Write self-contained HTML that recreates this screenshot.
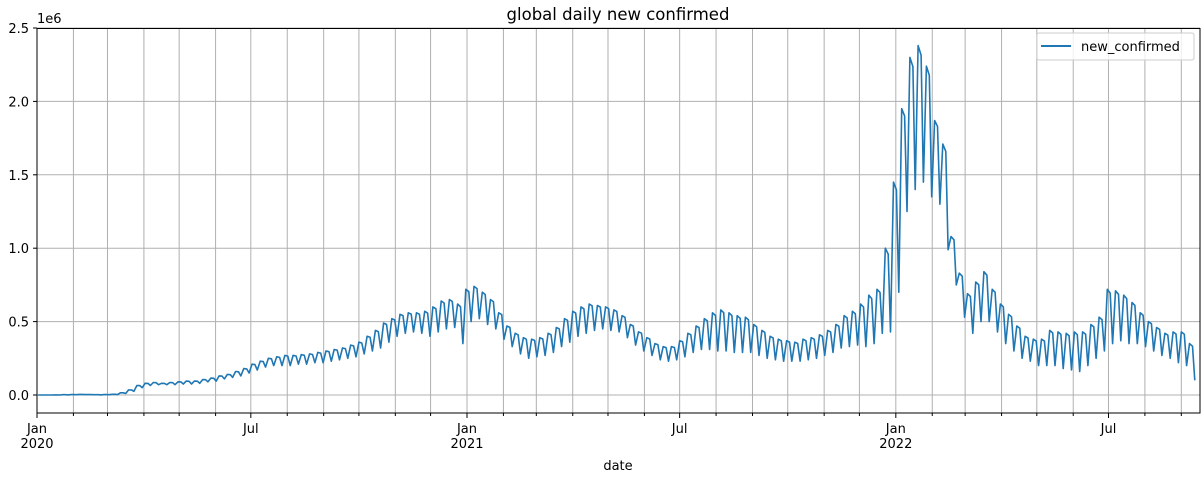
<!DOCTYPE html>
<html><head><meta charset="utf-8">
<style>
body{margin:0;background:#fff;}
svg text{font-family:"DejaVu Sans","Liberation Sans",sans-serif;fill:#000;}
</style></head>
<body>
<svg id="chart" width="1202" height="474" viewBox="0 0 1202 474" xmlns="http://www.w3.org/2000/svg">
<rect width="1202" height="474" fill="#fff"/>
<g id="grid"></g>
<g id="series"></g>
<g id="axes"></g>
<text x="618" y="20" font-size="16.5" text-anchor="middle">global daily new confirmed</text>
<text x="37" y="23" font-size="13">1e6</text>
<text x="618" y="470" font-size="13" text-anchor="middle">date</text>
<g>
<rect x="1037" y="33" width="157" height="27" fill="#fff" fill-opacity="0.8" stroke="#ccc" rx="2"/>
<line x1="1041" y1="46" x2="1071" y2="46" stroke="#1f77b4" stroke-width="2"/>
<text x="1081" y="51" font-size="13">new_confirmed</text>
</g>
</svg>
<script>
// weekly highs and lows (thousands), weeks starting 2020-01-01
const weeklyHigh=[0,0,1,2,3,4,3,2,3,5,15,35,65,80,85,80,85,90,95,95,105,115,130,140,160,180,210,230,250,260,270,270,275,280,290,300,310,320,340,360,400,440,490,520,550,560,560,570,600,640,650,620,720,
740,700,650,560,470,420,390,380,390,420,460,520,570,600,620,610,600,580,540,480,430,390,350,330,330,370,420,470,520,560,580,560,540,530,480,440,400,380,370,360,380,390,410,440,480,540,570,620,680,720,1000,1450,
1950,2300,2380,2240,1870,1710,1080,830,690,770,840,720,620,550,470,400,380,380,440,430,420,430,430,480,530,720,710,680,630,560,500,460,420,430,430,350];
const weeklyLow=[0,0,0,1,2,3,2,1,2,3,10,25,50,65,70,70,70,75,75,80,90,95,110,120,130,150,170,190,200,200,200,210,210,220,220,230,240,250,260,280,300,320,360,400,420,430,420,400,430,450,460,350,500,
520,480,450,380,330,280,250,260,270,290,330,360,400,420,440,450,440,430,390,340,300,270,240,230,240,260,290,310,310,300,300,290,290,290,270,250,240,230,230,230,240,250,270,290,320,330,340,330,350,420,430,700,
1250,1400,1450,1350,1300,990,750,530,420,500,500,430,350,300,250,230,200,200,200,180,170,160,200,250,300,350,370,350,350,330,300,270,250,220,200,100];
const yTicks=[0,0.5,1.0,1.5,2.0,2.5];
const yTickLabels=["0.0","0.5","1.0","1.5","2.0","2.5"];
const majorLabels=[["Jan","2020"],["Jul",""],["Jan","2021"],["Jul",""],["Jan","2022"],["Jul",""]];

const NS="http://www.w3.org/2000/svg";
const L=37,R=1200,T=28.5,B=413;
const x=d=>L+d*(430/366);
const y=v=>395-v*146.8/1e6;
function mk(tag,attrs,parent){const e=document.createElementNS(NS,tag);for(const k in attrs)e.setAttribute(k,attrs[k]);parent.appendChild(e);return e;}
const grid=document.getElementById('grid'),axes=document.getElementById('axes'),series=document.getElementById('series');
const months=[];
for(let yr=2020;yr<=2022;yr++)for(let m=0;m<12;m++){const d=(Date.UTC(yr,m,1)-Date.UTC(2020,0,1))/864e5;if(x(d)<=R+0.5)months.push({d,m,yr});}
let mi=0;
months.forEach(o=>{
 const px=x(o.d);
 const gl=mk('line',{x1:px,x2:px,y1:T,y2:B,stroke:'#b0b0b0','stroke-width':1},grid);
 
 
 const major=(o.m===0||o.m===6);
 const tk=mk('line',{x1:px,x2:px,y1:B,y2:B+(major?5:3),stroke:'#000','stroke-width':1},axes);
 
 
 if(major){const lab=majorLabels[mi++];
  const t=mk('text',{x:px,y:B+20,'font-size':13,'text-anchor':'middle'},axes);t.textContent=lab[0];
  
  
  if(lab[1]){const t2=mk('text',{x:px,y:B+35,'font-size':13,'text-anchor':'middle'},axes);t2.textContent=lab[1];
   
   }
 }
});
yTicks.forEach((v,i)=>{
 const py=y(v*1e6);
 const gl=mk('line',{x1:L,x2:R,y1:py,y2:py,stroke:'#b0b0b0','stroke-width':1},grid);
 
 
 const tk=mk('line',{x1:L-4,x2:L,y1:py,y2:py,stroke:'#000'},axes);
 
 
 const t=mk('text',{x:L-8,y:py+5,'font-size':13,'text-anchor':'end'},axes);t.textContent=yTickLabels[i];
 
 
});
const frame=mk('rect',{x:L,y:T,width:R-L,height:B-T,fill:'none',stroke:'#000','stroke-width':1},axes);


let pts=[];
weeklyHigh.forEach((h,w)=>{
 const lo=weeklyLow[w];
 pts.push([x(w*7+1),y(h*1e3)]);
 pts.push([x(w*7+3.5),y((h*0.93+lo*0.07)*1e3)]);
 pts.push([x(w*7+5.5),y(lo*1e3)]);
});
const line=mk('polyline',{points:pts.map(p=>p[0].toFixed(1)+','+p[1].toFixed(1)).join(' '),fill:'none',stroke:'#1f77b4','stroke-width':1.6,'stroke-linejoin':'round'},series);


</script>
</body></html>
